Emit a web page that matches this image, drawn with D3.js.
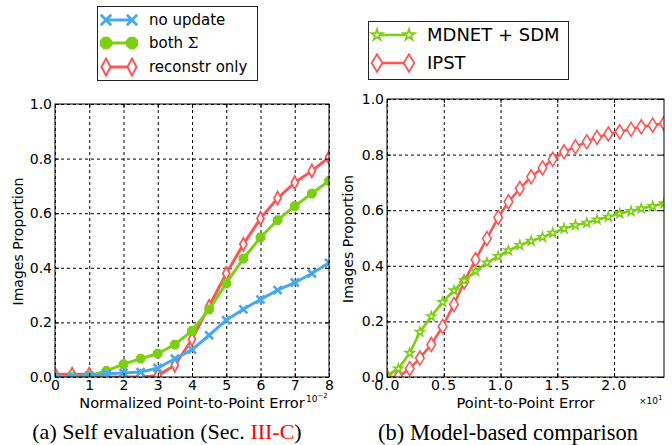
<!DOCTYPE html>
<html>
<head>
<meta charset="utf-8">
<script src="https://cdn.jsdelivr.net/npm/d3@7"></script>
<style>
    body { margin: 0; background: #fff; }
    svg { display: block; }
</style>
</head>
<body>
<svg id="chart" width="672" height="445" font-family="DejaVu Sans"></svg>
<script>
// (a) self evaluation, x in units of 10^-2
const leftX = [0, 0.5, 1, 1.5, 2, 2.5, 3, 3.5, 4, 4.5, 5, 5.5, 6, 6.5, 7, 7.5, 8];
const noUpdate = [0, 0.002, 0.005, 0.012, 0.015, 0.018, 0.033, 0.067, 0.10, 0.153, 0.208, 0.248, 0.284, 0.318, 0.346, 0.379, 0.418];
const bothSigma = [0, 0, 0.005, 0.022, 0.047, 0.067, 0.086, 0.119, 0.169, 0.248, 0.343, 0.434, 0.511, 0.575, 0.626, 0.672, 0.718];
const reconstrOnly = [0.01, 0.01, 0.01, 0, 0, 0, 0.005, 0.043, 0.138, 0.259, 0.379, 0.486, 0.581, 0.655, 0.712, 0.755, 0.804];
const leftXTicks = [0, 1, 2, 3, 4, 5, 6, 7, 8];

// (b) model-based comparison, x in units of 10^1
const rightX = [0, 0.1, 0.2, 0.29, 0.39, 0.49, 0.59, 0.68, 0.78, 0.88, 0.98, 1.07, 1.17, 1.27, 1.37, 1.46,
    1.56, 1.66, 1.76, 1.85, 1.95, 2.05, 2.15, 2.24, 2.34, 2.44];
const mdnetSdm = [0.005, 0.03, 0.086, 0.162, 0.218, 0.269, 0.311, 0.347, 0.381, 0.411, 0.434, 0.455, 0.474, 0.489, 0.503, 0.518,
    0.534, 0.546, 0.554, 0.566, 0.576, 0.588, 0.596, 0.606, 0.614, 0.624];
const ipst = [0, 0, 0.03, 0.068, 0.117, 0.182, 0.261, 0.342, 0.422, 0.498, 0.574, 0.63, 0.678, 0.72, 0.752, 0.783,
    0.81, 0.828, 0.846, 0.862, 0.874, 0.882, 0.891, 0.9, 0.906, 0.912];
const rightXTicks = [0, 0.5, 1.0, 1.5, 2.0];

const yTicks = [0, 0.2, 0.4, 0.6, 0.8, 1.0];

const BLUE = "#48a8ec", GREEN = "#7ccf12", RED = "#ff5454";

const svg = d3.select("#chart");

// marker shapes (s = scale)
function markerPath(type, s) {
    if (type === "cross") {
        const r = 4 * s;
        return `M${-r},${-r}L${r},${r}M${-r},${r}L${r},${-r}`;
    }
    if (type === "octagon") {
        const r = 4.3 * s;
        const pts = d3.range(8).map(i => [r * Math.cos(Math.PI / 8 + i * Math.PI / 4), r * Math.sin(Math.PI / 8 + i * Math.PI / 4)]);
        return d3.line()(pts) + "Z";
    }
    if (type === "thinDiamond") {
        return `M0,${-6.5 * s}L${3.5 * s},0L0,${6.5 * s}L${-3.5 * s},0Z`;
    }
    if (type === "diamond") {
        return `M0,${-7 * s}L${4.3 * s},0L0,${7 * s}L${-4.3 * s},0Z`;
    }
    if (type === "star") {
        return d3.symbol(d3.symbolStar, 24 * s * s)();
    }
}

function drawPanel(id, x, y, xs, series, opt) {
    const [xa, xb] = x.range();
    const [yb, ya] = y.range();
    const g = svg.append("g");

    // dashed grid
    g.append("g")
        .attr("transform", `translate(0,${yb})`)
        .call(d3.axisBottom(x).tickValues(opt.xTicks).tickSize(-(yb - ya)).tickFormat(""))
        .call(a => a.select(".domain").remove())
        .selectAll("line").attr("stroke", "#000").attr("stroke-dasharray", "3,3");
    g.append("g")
        .attr("transform", `translate(${xa},0)`)
        .call(d3.axisLeft(y).tickValues(yTicks).tickSize(-(xb - xa)).tickFormat(""))
        .call(a => a.select(".domain").remove())
        .selectAll("line").attr("stroke", "#000").attr("stroke-dasharray", "3,3");

    g.append("clipPath").attr("id", id)
        .append("rect").attr("x", xa).attr("y", ya).attr("width", xb - xa).attr("height", yb - ya);

    const plot = g.append("g").attr("clip-path", `url(#${id})`);
    const line = d3.line().x((d, i) => x(xs[i])).y(d => y(d));

    series.forEach(s => {
        plot.append("path")
            .attr("d", line(s.values))
            .attr("fill", "none")
            .attr("stroke", s.color)
            .attr("stroke-width", opt.lineWidth);
        plot.selectAll(null)
            .data(s.values)
            .enter().append("path")
            .attr("transform", (d, i) => `translate(${x(xs[i])},${y(d)})`)
            .attr("d", markerPath(s.marker, 1))
            .attr("fill", s.fill)
            .attr("stroke", s.color)
            .attr("stroke-width", s.marker === "cross" ? 2.6 : opt.markerStroke);
    });

    // frame
    g.append("rect")
        .attr("x", xa).attr("y", ya).attr("width", xb - xa).attr("height", yb - ya)
        .attr("fill", "none").attr("stroke", "#000").attr("stroke-width", 1);

    // inward ticks on all sides
    const bottom = g.append("g")
        .attr("transform", `translate(0,${yb})`)
        .call(d3.axisBottom(x).tickValues(opt.xTicks).tickSize(-4).tickPadding(3).tickFormat(opt.xFormat));
    const left = g.append("g")
        .attr("transform", `translate(${xa},0)`)
        .call(d3.axisLeft(y).tickValues(yTicks).tickSize(-4).tickPadding(3).tickFormat(d3.format(".1f")));
    g.append("g")
        .attr("transform", `translate(0,${ya})`)
        .call(d3.axisTop(x).tickValues(opt.xTicks).tickSize(-4).tickFormat(""));
    g.append("g")
        .attr("transform", `translate(${xb},0)`)
        .call(d3.axisRight(y).tickValues(yTicks).tickSize(-4).tickFormat(""));

    g.selectAll(".domain").remove();
    g.selectAll(".tick line").filter(function () { return !this.getAttribute("stroke-dasharray"); }).attr("stroke", "#000");
    [bottom, left].forEach(a => a.attr("font-family", "DejaVu Sans").attr("font-size", 14)
        .selectAll("text").attr("fill", "#000"));
    if (opt.xLetterSpacing) bottom.selectAll("text").attr("letter-spacing", opt.xLetterSpacing);

    // axis labels
    g.append("text")
        .attr("x", (xa + xb) / 2).attr("y", 408)
        .attr("text-anchor", "middle").attr("font-size", 14.6)
        .text(opt.xLabel);
    g.append("text")
        .attr("transform", `translate(${opt.yLabelX},${(ya + yb) / 2 + 1}) rotate(-90)`)
        .attr("text-anchor", "middle").attr("font-size", 14)
        .text("Images Proportion");
}

function drawLegend(x0, y0, w, h, entries, opt) {
    const g = svg.append("g");
    g.append("rect")
        .attr("x", x0 + 0.5).attr("y", y0 + 0.5).attr("width", w).attr("height", h)
        .attr("fill", "#fff").attr("stroke", "#222").attr("stroke-width", 1);
    entries.forEach((e, i) => {
        const cy = opt.rows[i];
        g.append("line")
            .attr("x1", opt.lineX[0]).attr("x2", opt.lineX[1])
            .attr("y1", cy).attr("y2", cy)
            .attr("stroke", e.color).attr("stroke-width", opt.lineWidth);
        opt.lineX.forEach(mx => {
            g.append("path")
                .attr("transform", `translate(${mx},${cy})`)
                .attr("d", markerPath(e.marker, opt.markerScale))
                .attr("fill", e.fill)
                .attr("stroke", e.color)
                .attr("stroke-width", e.marker === "cross" ? 2.8 : opt.markerStroke);
        });
        const t = g.append("text")
            .attr("x", opt.textX).attr("y", cy).attr("dy", "0.36em")
            .attr("font-size", opt.fontSize);
        if (e.name === "both Σ") {
            t.append("tspan").text("both ");
            t.append("tspan").attr("font-family", "DejaVu Serif").text("Σ");
        } else {
            t.text(e.name);
        }
    });
}

// left panel
const xL = d3.scaleLinear().domain([0, 8]).range([55, 329]);
const yL = d3.scaleLinear().domain([0, 1]).range([377, 104]);
const leftSeries = [
    { name: "no update", values: noUpdate, color: BLUE, marker: "cross", fill: "none" },
    { name: "both Σ", values: bothSigma, color: GREEN, marker: "octagon", fill: GREEN },
    { name: "reconstr only", values: reconstrOnly, color: RED, marker: "thinDiamond", fill: "#fff" }
];
drawPanel("clipL", xL, yL, leftX, leftSeries.slice().reverse(), {
    xTicks: leftXTicks, xFormat: d3.format("d"), lineWidth: 3, markerStroke: 1.8,
    xLabel: "Normalized Point-to-Point Error", yLabelX: 23
});

// right panel
const xR = d3.scaleLinear().domain([0, 2.44]).range([387, 664]);
const yR = d3.scaleLinear().domain([0, 1]).range([377, 99]);
const rightSeries = [
    { name: "MDNET + SDM", values: mdnetSdm, color: GREEN, marker: "star", fill: "#fff" },
    { name: "IPST", values: ipst, color: RED, marker: "diamond", fill: "#fff" }
];
drawPanel("clipR", xR, yR, rightX, rightSeries.slice().reverse(), {
    xTicks: rightXTicks, xFormat: d3.format(".1f"), xLetterSpacing: "1.5px", lineWidth: 2.6, markerStroke: 1.6,
    xLabel: "Point-to-Point Error", yLabelX: 353
});

// offset texts
const offL = svg.append("text").attr("x", 306).attr("y", 402).attr("font-size", 9);
offL.append("tspan").text("10");
offL.append("tspan").attr("dy", -4).attr("font-size", 7).text("−2");
const offR = svg.append("text").attr("x", 639).attr("y", 403.5).attr("font-size", 9);
offR.append("tspan").text("×10");
offR.append("tspan").attr("dy", -4).attr("font-size", 7).text("1");

// legends
drawLegend(97, 6, 160, 74, leftSeries, {
    rows: [20, 43, 67], lineX: [106, 132], textX: 149, fontSize: 15, lineWidth: 3, markerScale: 1.3, markerStroke: 2
});
drawLegend(368, 21, 200, 58, rightSeries, {
    rows: [35, 63], lineX: [377, 409], textX: 427, fontSize: 18, lineWidth: 2.6, markerScale: 1.25, markerStroke: 1.8
});

// captions
const capA = svg.append("text")
    .attr("x", 167).attr("y", 439).attr("text-anchor", "middle")
    .attr("font-family", "Liberation Serif").attr("font-size", 22);
capA.append("tspan").text("(a) Self evaluation (Sec. ");
capA.append("tspan").attr("fill", "#ff0000").text("III-C");
capA.append("tspan").text(")");
svg.append("text")
    .attr("x", 508).attr("y", 440).attr("text-anchor", "middle")
    .attr("font-family", "Liberation Serif").attr("font-size", 22.5)
    .text("(b) Model-based comparison");
</script>
</body>
</html>
